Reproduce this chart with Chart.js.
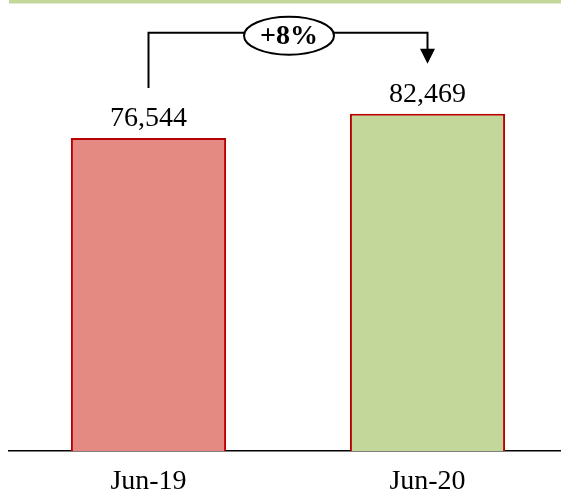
<!DOCTYPE html>
<html>
<head>
<meta charset="utf-8">
<script src="https://cdn.jsdelivr.net/npm/chart.js@4"></script>
<style>
    html, body { margin: 0; padding: 0; background: #fff; overflow: hidden; }
    #wrap { width: 567px; height: 491px; }
</style>
</head>
<body>
<div id="wrap"><canvas id="chart"></canvas></div>
<script>
// ====== Data ======
const categories = ['Jun-19', 'Jun-20'];
const values = [76544, 82469];
const barFills = ['#E48A82', '#C4D79B'];

const SERIF = '"Liberation Serif", "Times New Roman", serif';

// ====== Labels, green band and growth arrow ======
const decorations = {
    id: 'decorations',
    beforeDraw(chart) {
        const c = chart.ctx;
        c.save();
        c.fillStyle = '#C4D79B';
        c.fillRect(chart.chartArea.left, 0, chart.width, 3.5);
        c.restore();
    },
    afterDatasetsDraw(chart) {
        const c = chart.ctx;
        const bars = chart.getDatasetMeta(0).data;
        c.save();

        // value labels above bars
        c.fillStyle = '#000';
        c.font = '28px ' + SERIF;
        c.textAlign = 'center';
        c.textBaseline = 'alphabetic';
        bars.forEach((b, i) => {
            c.fillText(values[i].toLocaleString('en-US'), b.x, b.y - 12);
        });

        // connector
        const a = bars[0], b = bars[1];
        const yTop = Math.min(a.y, b.y) - 81;
        const yEndA = a.y - 50;
        const yEndB = b.y - 50;
        c.strokeStyle = '#000';
        c.lineWidth = 2;
        c.beginPath();
        c.moveTo(a.x, yEndA);
        c.lineTo(a.x, yTop);
        c.lineTo(b.x, yTop);
        c.lineTo(b.x, yEndB - 14);
        c.stroke();
        c.fillStyle = '#000';
        c.beginPath();
        c.moveTo(b.x - 7.5, yEndB - 15);
        c.lineTo(b.x + 7.5, yEndB - 15);
        c.lineTo(b.x, yEndB);
        c.closePath();
        c.fill();

        // growth bubble
        const cx = (a.x + b.x) / 2 + 1, cy = yTop + 3;
        c.beginPath();
        c.ellipse(cx, cy, 45, 19, 0, 0, Math.PI * 2);
        c.fillStyle = '#fff';
        c.fill();
        c.lineWidth = 2;
        c.stroke();
        const pct = Math.round((values[1] / values[0] - 1) * 100);
        c.fillStyle = '#000';
        c.font = 'bold 28px ' + SERIF;
        c.textBaseline = 'middle';
        c.fillText((pct >= 0 ? '+' : '') + pct + '%', cx, cy + 1);
        c.restore();
    }
};

// ====== Chart ======
new Chart(document.getElementById('chart'), {
    type: 'bar',
    data: {
        labels: categories,
        datasets: [{
            data: values,
            backgroundColor: barFills,
            borderColor: '#B80000',
            borderWidth: 2,
            categoryPercentage: 1,
            barPercentage: 0.556
        }]
    },
    options: {
        responsive: true,
        maintainAspectRatio: false,
        animation: false,
        layout: { padding: { top: 42, left: 9, right: 0, bottom: 0 } },
        plugins: {
            legend: { display: false },
            tooltip: { enabled: false }
        },
        scales: {
            y: {
                display: false,
                min: 0,
                max: 100000
            },
            x: {
                grid: { display: false, drawTicks: false },
                border: { display: true, color: '#000', width: 1.5 },
                ticks: {
                    color: '#000',
                    padding: 14,
                    font: { size: 28, family: SERIF }
                },
                afterFit: s => { s.height = 40; }
            }
        }
    },
    plugins: [decorations]
});
</script>
</body>
</html>
